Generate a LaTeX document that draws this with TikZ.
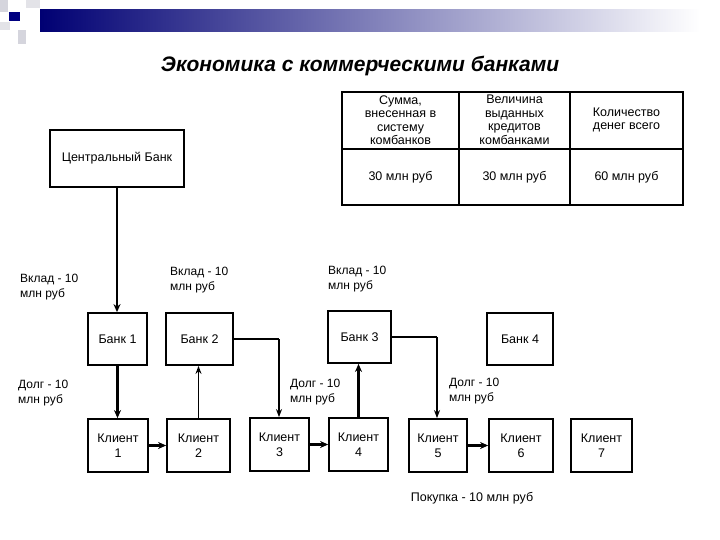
\documentclass[tikz,border=0pt]{standalone}
\usepackage{fontspec}
\setmainfont{Liberation Sans}
\usetikzlibrary{arrows.meta}
\begin{document}
\begin{tikzpicture}[x=1pt,y=-1pt,
  box/.style={draw,line width=1.8pt,inner sep=0pt},
  lbl/.style={font=\fontsize{12}{15}\selectfont,align=left,anchor=north west,inner sep=0pt},
  ctxt/.style={font=\fontsize{12.5}{15}\selectfont,align=center},
  tt/.style={font=\fontsize{12.5}{13.5}\selectfont,align=center},
  thk/.style={line width=2.2pt,-{Stealth[length=8pt,width=7pt]}},
  thn/.style={line width=1.3pt,-{Stealth[length=8pt,width=6pt]}}]
\useasboundingbox (0,0) rectangle (720,540);
\fill[white] (0,0) rectangle (720,540);
% header decoration
\shade[left color=blue!45!black,right color=white] (40,10) rectangle (700,32);
\fill[blue!10!gray!30] (0,0) rectangle (8,12);
\fill[blue!10!gray!30] (18,30) rectangle (26,44);
\fill[blue!8!gray!20] (0,22) rectangle (10,30);
\fill[blue!8!gray!20] (26,0) rectangle (40,8);
\fill[blue!50!black] (9,12) rectangle (20,21);
\node[font=\fontsize{21}{25}\selectfont\bfseries\itshape] (title) at (360,66) {Экономика с коммерческими банками};
% table
\draw[line width=1.8pt] (342,92) rectangle (683,205);
\draw[line width=1.8pt] (342,149) -- (683,149) (459,92) -- (459,205) (570,92) -- (570,205);
\node[tt] (h1) at (400.5,120) {Сумма,\\внесенная в\\систему\\комбанков};
\node[tt] (h2) at (514.5,120) {Величина\\выданных\\кредитов\\комбанками};
\node[tt] (h3) at (626.5,120) {Количество\\денег всего};
\node[tt] (v1) at (400.5,177) {30 млн руб};
\node[tt] (v2) at (514.5,177) {30 млн руб};
\node[tt] (v3) at (626.5,177) {60 млн руб};
% boxes
\node[box,minimum width=134pt,minimum height=57pt,ctxt] (cb) at (117,158.5) {Центральный Банк};
\node[box,minimum width=59pt,minimum height=52pt,ctxt] (b1) at (117.5,339) {Банк 1};
\node[box,minimum width=67pt,minimum height=52pt,ctxt] (b2) at (199.5,339) {Банк 2};
\node[box,minimum width=63pt,minimum height=52pt,ctxt] (b3) at (359.5,337) {Банк 3};
\node[box,minimum width=66pt,minimum height=52pt,ctxt] (b4) at (520,339) {Банк 4};
\foreach \n/\xa/\xb/\ya/\yb in {1/88/148/419/472,2/167/230/419/472,3/250/309/418/471,4/329/388/418/471,5/409/467/419/472,6/489/553/419/472,7/571/632/419/472}{
  \node[box,minimum width=\xb pt-\xa pt,minimum height=\yb pt-\ya pt,ctxt] (c\n) at ({(\xa+\xb)/2},{(\ya+\yb)/2}) {Клиент\\\n};
}
% connectors
\draw[thk] (cb.south) -- (b1.north -| cb.south);
\draw[thk] (b1.south) -- (c1.north -| b1.south);
\draw[thk] (c1.east) -- (c2.west |- c1.east);
\draw[thn] (c2.north) -- (b2.south -| c2.north);
\draw[line width=2.2pt] (b2.east) -- (279,339) coordinate (k1);
\draw[thn] (k1) -- (c3.north -| k1);
\draw[thk] (c3.east) -- (c4.west |- c3.east);
\draw[thk] (c4.north) -- (b3.south -| c4.north);
\draw[line width=1.3pt] (b3.east) -- (437,337) coordinate (k2);
\draw[thn] (k2) -- (c5.north -| k2);
\draw[thk] (c5.east) -- (c6.west |- c5.east);
% labels
\node[lbl] (l1) at (20,274) {Вклад - 10\\млн руб};
\node[lbl] (l2) at (170,267) {Вклад - 10\\млн руб};
\node[lbl] (l3) at (328,266) {Вклад - 10\\млн руб};
\node[lbl] (l4) at (18,380) {Долг - 10\\млн руб};
\node[lbl] (l5) at (290,379) {Долг - 10\\млн руб};
\node[lbl] (l6) at (449,378) {Долг - 10\\млн руб};
\node[ctxt] (l7) at (472,498) {Покупка - 10 млн руб};
\end{tikzpicture}
\end{document}
